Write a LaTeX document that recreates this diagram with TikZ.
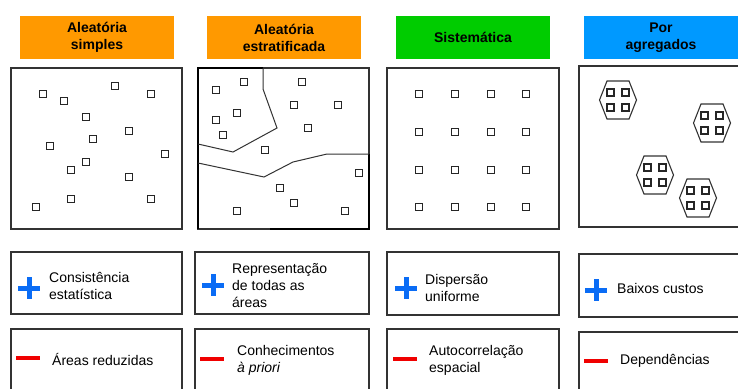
\documentclass[tikz,border=0pt]{standalone}
\usepackage{fontspec}
\setmainfont{Liberation Sans}
\definecolor{laranja}{HTML}{FF9900}
\definecolor{verde}{HTML}{00CC00}
\definecolor{azul}{HTML}{0099FF}
\definecolor{corMais}{HTML}{0A6CF5}
\definecolor{corMenos}{HTML}{F00000}
\definecolor{traco}{HTML}{333333}

\tikzset{
  titulo/.style={minimum width=154pt, minimum height=43pt, inner sep=0, align=center,
    font=\fontsize{14}{17}\selectfont\bfseries},
  painel/.style={draw=traco, line width=1.3pt},
  grosso/.style={draw=black, line width=2.4pt},
  estrato/.style={draw=traco, line width=1pt},
  caixa/.style={draw=traco, line width=1.2pt},
  ponto/.style={draw=black!85, line width=1.4pt},
  hexa/.style={draw=traco, line width=1.1pt},
  legenda/.style={anchor=west, align=left, inner sep=0, font=\fontsize{14}{17}\selectfont},
  sinalMais/.style={draw=corMais, line width=5pt},
  sinalMenos/.style={draw=corMenos, line width=4pt}
}
\newcommand{\quadrado}[2]{\draw[ponto] (#1-3.4,#2-3.4) rectangle (#1+3.4,#2+3.4);}
\newcommand{\mais}[2]{\draw[sinalMais] (#1,#2) +(-11,0) -- +(11,0) +(0,-11) -- +(0,11);}
\newcommand{\menos}[2]{\draw[sinalMenos] (#1,#2) +(-12,0) -- +(12,0);}

\begin{document}
\begin{tikzpicture}[x=1pt, y=-1pt]
  \clip (0,0) rectangle (738,388);
  \fill[white] (0,0) rectangle (738,388);

  \node[titulo, fill=laranja] (tit1) at (97,37.5) {Aleatória\\simples};
  \node[titulo, fill=laranja] (tit2) at (284,37.5) {Aleatória\\estratificada};
  \node[titulo, fill=verde] (tit3) at (473,37.5) {Sistemática};
  \node[titulo, fill=azul] (tit4) at (661,37.5) {Por\\agregados};

  \draw[painel] (11,68) rectangle (182,229);
  \foreach \x/\y in {43/94, 64/101, 115/86, 151/94, 86/117, 129/131, 93/139, 50/146,
      165/154, 86/162, 71/170, 129/177, 36/207, 71/199, 151/199}
    {\quadrado{\x}{\y}}

  \draw[painel] (198,68) rectangle (369,229);
  \draw[grosso] (263,68) -- (198,68) -- (198,229);
  \draw[grosso] (270,229) -- (369,229) -- (369,154);
  \draw[estrato] (263,68) -- (263,89) -- (277,128) -- (233,152) -- (198,144);
  \draw[estrato] (198,163) -- (264,177) -- (293,162) -- (327,154) -- (369,154);
  \foreach \x/\y in {216/90, 244/82, 302/82, 237/113, 216/120, 294/105, 338/105, 223/135,
      308/128, 265/150, 359/173, 280/188, 294/203, 237/211, 345/211}
    {\quadrado{\x}{\y}}

  \draw[painel] (387,68) rectangle (559,229);
  \foreach \x in {419,455,491,526}
    \foreach \y in {94,132,170,207}
      {\quadrado{\x}{\y}}

  \draw[painel] (579,66) rectangle (760,227);
  \foreach \x/\y in {618/100, 712/123, 655/175, 698/198} {
    \draw[hexa] (\x-18.5,\y) -- (\x-11,\y-19) -- (\x+11,\y-19) -- (\x+18.5,\y)
      -- (\x+11,\y+19) -- (\x-11,\y+19) -- cycle;
    \quadrado{\x-7.5}{\y-7.5}
    \quadrado{\x+7.5}{\y-7.5}
    \quadrado{\x-7.5}{\y+7.5}
    \quadrado{\x+7.5}{\y+7.5}
  }

  \draw[caixa] (11,252) rectangle (182,314);
  \draw[caixa] (195,252) rectangle (369,314);
  \draw[caixa] (387,252) rectangle (559,315);
  \draw[caixa] (579,254) rectangle (760,317);
  \draw[caixa] (11,329) rectangle (182,400);
  \draw[caixa] (195,329) rectangle (369,400);
  \draw[caixa] (387,329) rectangle (559,400);
  \draw[caixa] (579,332) rectangle (760,400);

  \mais{29}{288}
  \mais{213}{285}
  \mais{406}{288}
  \mais{596}{290}
  \menos{28}{358}
  \menos{212}{359}
  \menos{405}{359}
  \menos{596}{361}

  \node[legenda] (van1) at (49,286) {Consistência\\estatística};
  \node[legenda] (van2) at (232,286) {Representação\\de todas as\\áreas};
  \node[legenda] (van3) at (425,288) {Dispersão\\uniforme};
  \node[legenda] (van4) at (617,288) {Baixos custos};
  \node[legenda] (des1) at (52,359) {Áreas reduzidas};
  \node[legenda] (des2) at (237,360) {Conhecimentos\\\textit{à priori}};
  \node[legenda] (des3) at (429,360.5) {Autocorrelação\\espacial};
  \node[legenda] (des4) at (620,361) {Dependências};
\end{tikzpicture}
\end{document}
